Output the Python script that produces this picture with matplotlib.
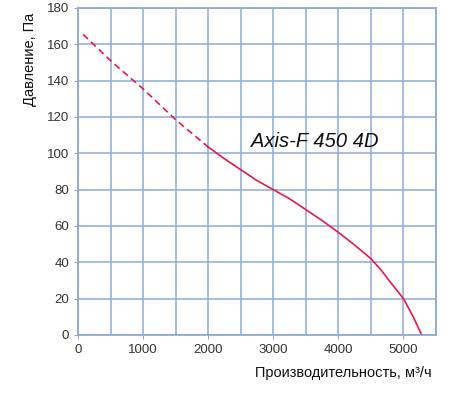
import numpy as np
import matplotlib
matplotlib.use('Agg')
import matplotlib.pyplot as plt

plt.rcParams['font.family'] = ['Liberation Sans', 'DejaVu Sans']

# dashed (extrapolated) part of the fan curve
flow_dash = [80, 500, 1000, 1500, 2000]
press_dash = [165.5, 151, 135.5, 118.5, 103.5]
# solid working part
flow_solid = [2000, 2250, 2500, 2750, 3000, 3250, 3500, 3750, 4000, 4250, 4500, 4650, 4800, 5000, 5150, 5280]
press_solid = [103.5, 97, 91, 85, 80, 75, 69, 63, 56.5, 49.5, 42, 36, 29, 20, 10, 0]

x_ticks = [0, 1000, 2000, 3000, 4000, 5000]
y_ticks = list(range(0, 181, 20))
model_name = "Axis-F 450 4D"

GRID = '#8eaadb'
CURVE = '#e8194a'

fig = plt.figure(figsize=(4.5, 4.04), dpi=100)
ax = fig.add_axes([0.1733, 0.1708, 0.7957, 0.8094])

ax.plot(flow_dash, press_dash, color=CURVE, lw=1.2, ls=(0, (4, 2.5)))
ax.plot(flow_solid, press_solid, color=CURVE, lw=1.2)

ax.set_xlim(0, 5500)
ax.set_ylim(0, 180)
ax.set_xticks(x_ticks)
ax.set_xticks(np.arange(0, 5501, 500), minor=True)
ax.set_yticks(y_ticks)
ax.grid(True, which='both', color=GRID, lw=1.1)
ax.set_axisbelow(True)
for s in ax.spines.values():
    s.set_color(GRID)
    s.set_linewidth(1.3)
ax.tick_params(which='both', colors=GRID, length=3, labelcolor='#333333', labelsize=9.5)
ax.tick_params(which='minor', length=0)

ax.text(2650, 106.5, model_name, fontsize=14.5, style='italic', color='#111111', va='center')

fig.text(0.067, 1 - 13 / 404, 'Давление, Па', fontsize=10.5, color='#111111',
         rotation=90, ha='center', va='top')
fig.text(0.96, 0.076, 'Производительность, м³/ч', fontsize=10.5, color='#111111', ha='right', va='center')

fig.savefig('out.png', dpi=100)
